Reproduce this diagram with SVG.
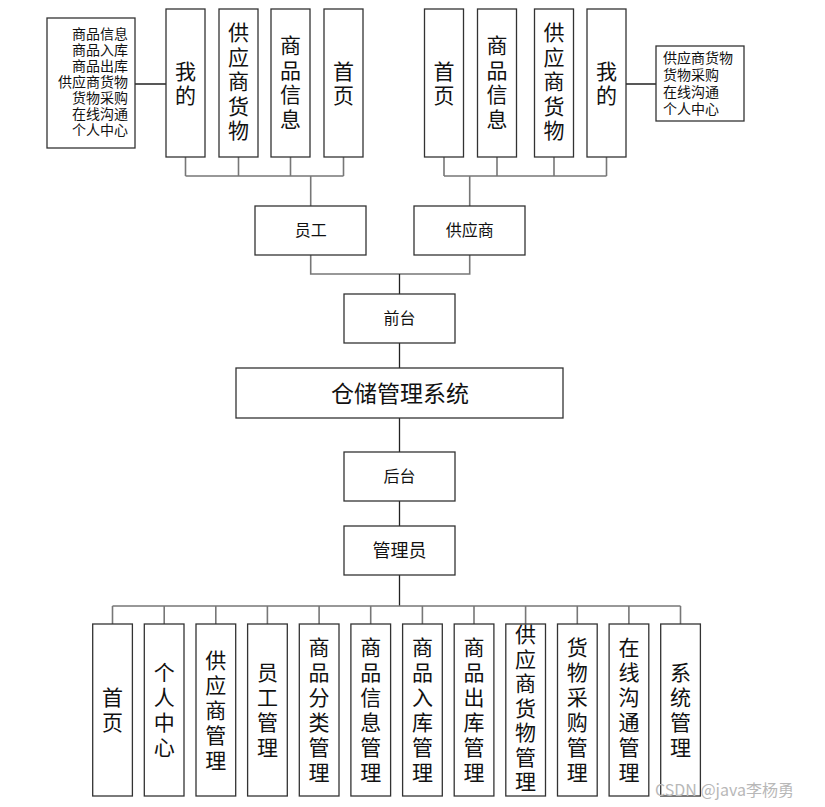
<svg xmlns="http://www.w3.org/2000/svg" width="825" height="807" viewBox="0 0 825 807">
<style>
.b{fill:#fff;stroke:#333;stroke-width:1.3}
.t{font-family:"Noto Sans CJK SC","Noto Sans",sans-serif;fill:#111}
.v{font-size:21px;text-anchor:middle}
.w{font-size:21px;text-anchor:middle}
.s{font-size:14px}
.m{font-size:16px;text-anchor:middle}
.k{stroke:#222;stroke-width:1.3;fill:none}
.g{stroke:#777;stroke-width:1.6;fill:none}
</style>
<rect width="825" height="807" fill="#fff"/>
<g id="connectors">
<path class="k" d="M135,84H166M626,84H656"/>
<path class="g" d="M185.5,157V176M238.5,157V176M290.5,157V176M343.5,157V176M185.5,176H343.5M310.7,176V206"/>
<path class="g" d="M444,157V176M497,157V176M554,157V176M606.5,157V176M444,176H606.5M469.7,176V206"/>
<path class="g" d="M310.7,255V274H469.7V255"/>
<path class="k" d="M399.5,274V294M399.5,343V368M399.5,418V452M399.5,501V526M399.5,575V606"/>
<path class="g" d="M112.5,606H680.5M112.5,606V624M164.2,606V624M215.8,606V624M267.4,606V624M319.1,606V624M370.7,606V624M422.4,606V624M474,606V624M525.6,606V624M577.3,606V624M628.9,606V624M680.5,606V624"/>
</g>
<g id="n-left-list"><rect class="b" x="47" y="18" width="88" height="130"/>
<text class="t s" text-anchor="end"><tspan x="128" y="39">商品信息</tspan><tspan x="128" y="55">商品入库</tspan><tspan x="128" y="71">商品出库</tspan><tspan x="128" y="87">供应商货物</tspan><tspan x="128" y="103">货物采购</tspan><tspan x="128" y="119">在线沟通</tspan><tspan x="128" y="135">个人中心</tspan></text></g>
<g id="n-l-wode"><rect class="b" x="166" y="9" width="39" height="148"/><text class="t w"><tspan x="185.5" y="79">我</tspan><tspan x="185.5" y="103">的</tspan></text></g>
<g id="n-l-gyshw"><rect class="b" x="219" y="9" width="39" height="148"/><text class="t w"><tspan x="238.5" y="40">供</tspan><tspan x="238.5" y="64.5">应</tspan><tspan x="238.5" y="89">商</tspan><tspan x="238.5" y="113.5">货</tspan><tspan x="238.5" y="138">物</tspan></text></g>
<g id="n-l-spxx"><rect class="b" x="271" y="9" width="39" height="148"/><text class="t w"><tspan x="290.5" y="53">商</tspan><tspan x="290.5" y="77.5">品</tspan><tspan x="290.5" y="102">信</tspan><tspan x="290.5" y="126.5">息</tspan></text></g>
<g id="n-l-sy"><rect class="b" x="324" y="9" width="39" height="148"/><text class="t w"><tspan x="343.5" y="79">首</tspan><tspan x="343.5" y="103">页</tspan></text></g>
<g id="n-r-sy"><rect class="b" x="424.5" y="9" width="39" height="148"/><text class="t w"><tspan x="444" y="79">首</tspan><tspan x="444" y="103">页</tspan></text></g>
<g id="n-r-spxx"><rect class="b" x="477.5" y="9" width="39" height="148"/><text class="t w"><tspan x="497" y="53">商</tspan><tspan x="497" y="77.5">品</tspan><tspan x="497" y="102">信</tspan><tspan x="497" y="126.5">息</tspan></text></g>
<g id="n-r-gyshw"><rect class="b" x="534.5" y="9" width="39" height="148"/><text class="t w"><tspan x="554" y="40">供</tspan><tspan x="554" y="64.5">应</tspan><tspan x="554" y="89">商</tspan><tspan x="554" y="113.5">货</tspan><tspan x="554" y="138">物</tspan></text></g>
<g id="n-r-wode"><rect class="b" x="587" y="9" width="39" height="148"/><text class="t w"><tspan x="606.5" y="79">我</tspan><tspan x="606.5" y="103">的</tspan></text></g>
<g id="n-right-list"><rect class="b" x="656" y="46" width="88" height="75"/>
<text class="t s"><tspan x="663" y="63">供应商货物</tspan><tspan x="663" y="80">货物采购</tspan><tspan x="663" y="97">在线沟通</tspan><tspan x="663" y="114">个人中心</tspan></text></g>
<g id="n-yuangong"><rect class="b" x="255" y="206" width="111" height="49"/><text class="t m" x="310.7" y="236">员工</text></g>
<g id="n-gongyingshang"><rect class="b" x="414" y="206" width="111" height="49"/><text class="t m" x="469.7" y="236">供应商</text></g>
<g id="n-qiantai"><rect class="b" x="344" y="294" width="111" height="49"/><text class="t m" x="399.5" y="324">前台</text></g>
<g id="n-system"><rect class="b" x="236" y="368" width="327" height="50"/><text class="t" x="400" y="402" font-size="23" text-anchor="middle">仓储管理系统</text></g>
<g id="n-houtai"><rect class="b" x="344" y="452" width="111" height="49"/><text class="t m" x="399.5" y="482">后台</text></g>
<g id="n-admin"><rect class="b" x="344" y="526" width="111" height="49"/><text class="t" x="399.5" y="557" font-size="18" text-anchor="middle">管理员</text></g>
<g id="n-b1"><rect class="b" x="92.7" y="624" width="39.7" height="172"/><text class="t v"><tspan x="112.5" y="705">首</tspan><tspan x="112.5" y="730">页</tspan></text></g>
<g id="n-b2"><rect class="b" x="144.3" y="624" width="39.7" height="172"/><text class="t v"><tspan x="164.2" y="680">个</tspan><tspan x="164.2" y="705">人</tspan><tspan x="164.2" y="730">中</tspan><tspan x="164.2" y="755">心</tspan></text></g>
<g id="n-b3"><rect class="b" x="196" y="624" width="39.7" height="172"/><text class="t v"><tspan x="215.8" y="668">供</tspan><tspan x="215.8" y="693">应</tspan><tspan x="215.8" y="718">商</tspan><tspan x="215.8" y="743">管</tspan><tspan x="215.8" y="768">理</tspan></text></g>
<g id="n-b4"><rect class="b" x="247.6" y="624" width="39.7" height="172"/><text class="t v"><tspan x="267.4" y="680">员</tspan><tspan x="267.4" y="705">工</tspan><tspan x="267.4" y="730">管</tspan><tspan x="267.4" y="755">理</tspan></text></g>
<g id="n-b5"><rect class="b" x="299.3" y="624" width="39.7" height="172"/><text class="t v"><tspan x="319.1" y="655">商</tspan><tspan x="319.1" y="680">品</tspan><tspan x="319.1" y="705">分</tspan><tspan x="319.1" y="730">类</tspan><tspan x="319.1" y="755">管</tspan><tspan x="319.1" y="780">理</tspan></text></g>
<g id="n-b6"><rect class="b" x="350.9" y="624" width="39.7" height="172"/><text class="t v"><tspan x="370.7" y="655">商</tspan><tspan x="370.7" y="680">品</tspan><tspan x="370.7" y="705">信</tspan><tspan x="370.7" y="730">息</tspan><tspan x="370.7" y="755">管</tspan><tspan x="370.7" y="780">理</tspan></text></g>
<g id="n-b7"><rect class="b" x="402.6" y="624" width="39.7" height="172"/><text class="t v"><tspan x="422.4" y="655">商</tspan><tspan x="422.4" y="680">品</tspan><tspan x="422.4" y="705">入</tspan><tspan x="422.4" y="730">库</tspan><tspan x="422.4" y="755">管</tspan><tspan x="422.4" y="780">理</tspan></text></g>
<g id="n-b8"><rect class="b" x="454.2" y="624" width="39.7" height="172"/><text class="t v"><tspan x="474" y="655">商</tspan><tspan x="474" y="680">品</tspan><tspan x="474" y="705">出</tspan><tspan x="474" y="730">库</tspan><tspan x="474" y="755">管</tspan><tspan x="474" y="780">理</tspan></text></g>
<g id="n-b9"><rect class="b" x="505.8" y="624" width="39.7" height="172"/><text class="t v"><tspan x="525.6" y="642">供</tspan><tspan x="525.6" y="666.5">应</tspan><tspan x="525.6" y="691">商</tspan><tspan x="525.6" y="715.5">货</tspan><tspan x="525.6" y="740">物</tspan><tspan x="525.6" y="764.5">管</tspan><tspan x="525.6" y="789">理</tspan></text></g>
<g id="n-b10"><rect class="b" x="557.5" y="624" width="39.7" height="172"/><text class="t v"><tspan x="577.3" y="655">货</tspan><tspan x="577.3" y="680">物</tspan><tspan x="577.3" y="705">采</tspan><tspan x="577.3" y="730">购</tspan><tspan x="577.3" y="755">管</tspan><tspan x="577.3" y="780">理</tspan></text></g>
<g id="n-b11"><rect class="b" x="609.1" y="624" width="39.7" height="172"/><text class="t v"><tspan x="628.9" y="655">在</tspan><tspan x="628.9" y="680">线</tspan><tspan x="628.9" y="705">沟</tspan><tspan x="628.9" y="730">通</tspan><tspan x="628.9" y="755">管</tspan><tspan x="628.9" y="780">理</tspan></text></g>
<g id="n-b12"><rect class="b" x="660.7" y="624" width="39.7" height="172"/><text class="t v"><tspan x="680.5" y="680">系</tspan><tspan x="680.5" y="705">统</tspan><tspan x="680.5" y="730">管</tspan><tspan x="680.5" y="755">理</tspan></text></g>
<text class="t" x="655" y="796" font-size="16" fill="#b8b8b8" style="fill:#b8b8b8">CSDN @java李杨勇</text>
</svg>
